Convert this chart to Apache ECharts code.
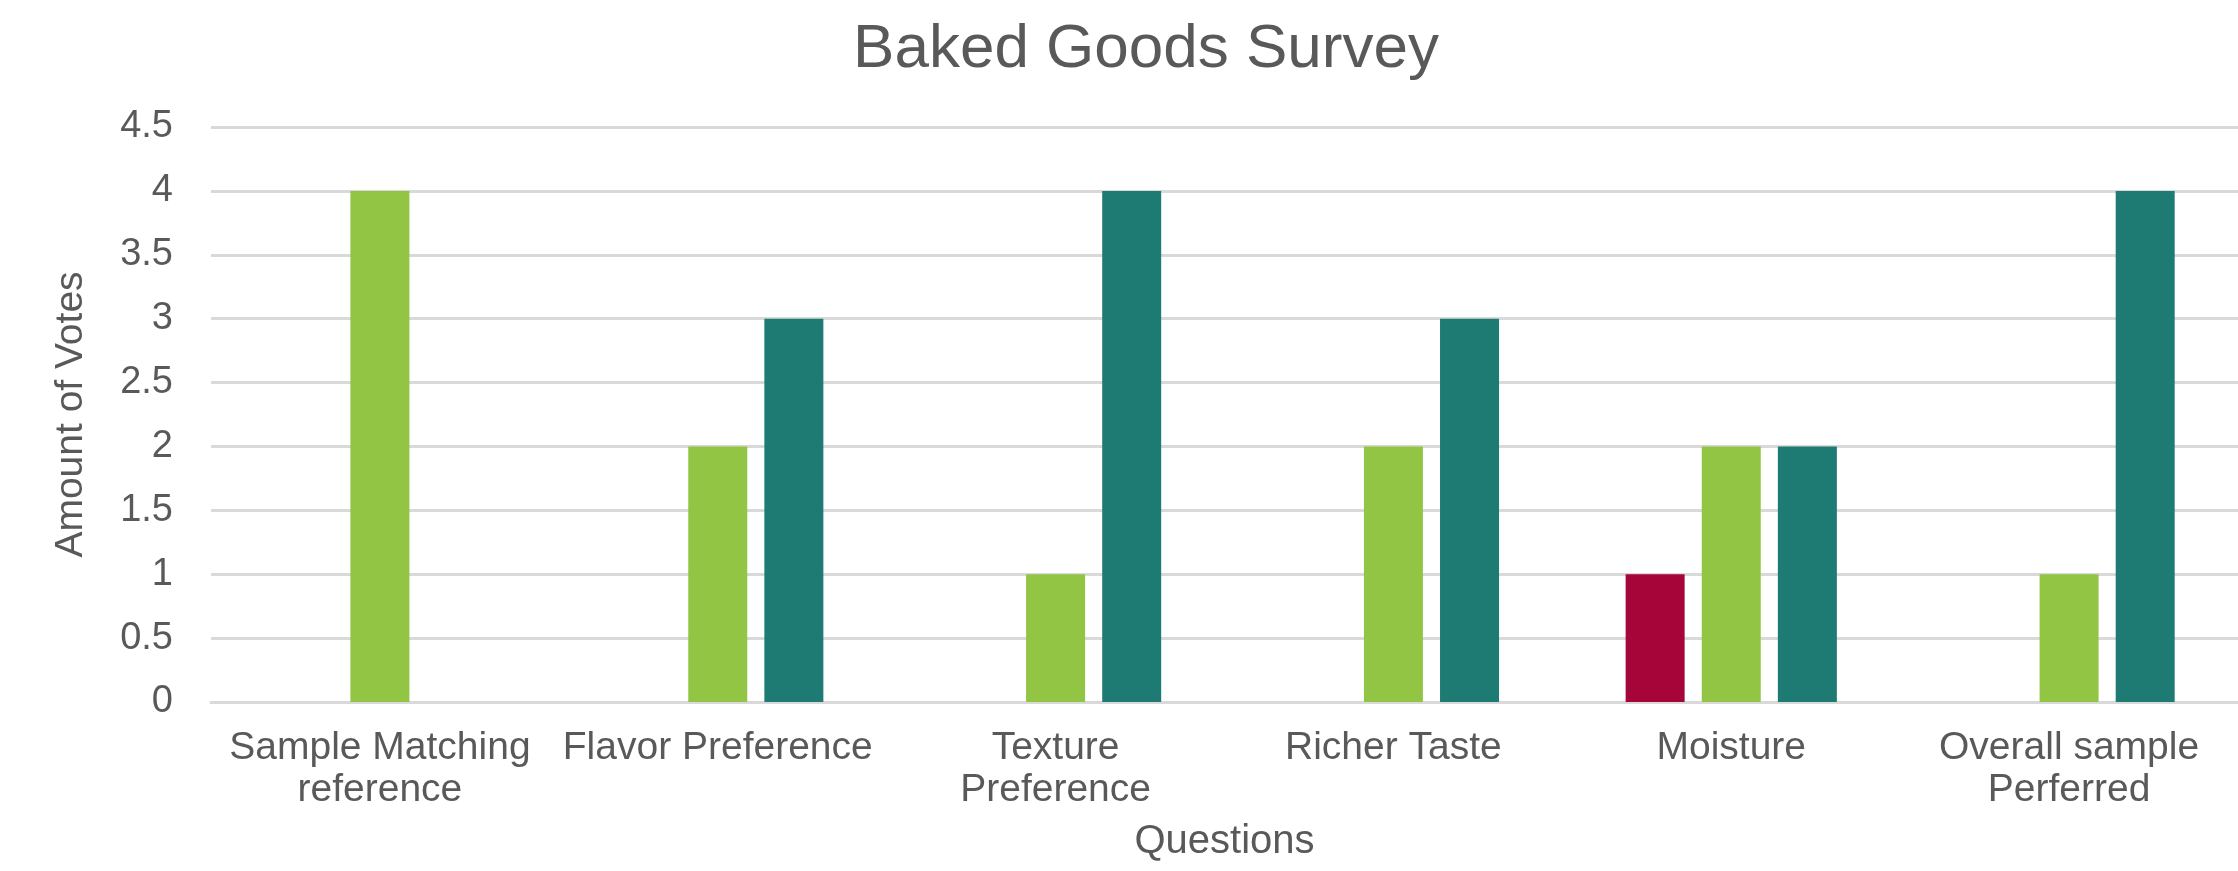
<!DOCTYPE html>
<html>
<head>
<meta charset="utf-8">
<script src="https://cdn.jsdelivr.net/npm/echarts@6/dist/echarts.min.js"></script>
<style>
html,body{margin:0;padding:0;background:#fff;}
#chart{width:2238px;height:871px;}
</style>
</head>
<body>
<div id="chart"></div>
<script>
const categories = ["Sample Matching\nreference", "Flavor Preference", "Texture\nPreference", "Richer Taste", "Moisture", "Overall sample\nPerferred"];
const seriesRed = [0, 0, 0, 0, 1, 0];
const seriesGreen = [4, 2, 1, 2, 2, 1];
const seriesTeal = [0, 3, 4, 3, 2, 4];
const yTicks = [0, 0.5, 1, 1.5, 2, 2.5, 3, 3.5, 4, 4.5];

const textColor = '#595959';
const fontFamily = 'Arial, "Liberation Sans", sans-serif';
const chart = echarts.init(document.getElementById('chart'));
chart.setOption({
  animation: false,
  title: {
    text: 'Baked Goods Survey',
    left: 1141, textAlign: 'center', top: 14,
    textStyle: { color: textColor, fontSize: 62, fontWeight: 'normal', fontFamily }
  },
  grid: { left: 211, right: 0, top: 127, bottom: 169 },
  xAxis: {
    type: 'category',
    data: categories,
    name: 'Questions',
    nameLocation: 'middle',
    nameGap: 120,
    nameTextStyle: { color: textColor, fontSize: 40, fontFamily },
    axisLine: { lineStyle: { color: '#D9D9D9', width: 3 } },
    axisTick: { show: false },
    axisLabel: { interval: 0, color: textColor, fontSize: 39, fontFamily, margin: 25, lineHeight: 42 }
  },
  yAxis: {
    type: 'value',
    min: yTicks[0], max: yTicks[yTicks.length - 1], interval: 0.5,
    name: 'Amount of Votes',
    nameLocation: 'middle',
    nameGap: 120,
    nameTextStyle: { color: textColor, fontSize: 39, fontFamily },
    axisLine: { show: false },
    axisTick: { show: false },
    axisLabel: { color: textColor, fontSize: 38, fontFamily, margin: 38 },
    splitLine: { lineStyle: { color: '#D9D9D9', width: 3 } }
  },
  series: [
    { name: 'Red', type: 'bar', data: seriesRed, itemStyle: { color: '#A50538' }, barWidth: 59, barGap: '29%' },
    { name: 'Green', type: 'bar', data: seriesGreen, itemStyle: { color: '#92C543' }, barWidth: 59, barGap: '29%' },
    { name: 'Teal', type: 'bar', data: seriesTeal, itemStyle: { color: '#1E7B73' }, barWidth: 59, barGap: '29%' }
  ]
});
</script>
</body>
</html>
